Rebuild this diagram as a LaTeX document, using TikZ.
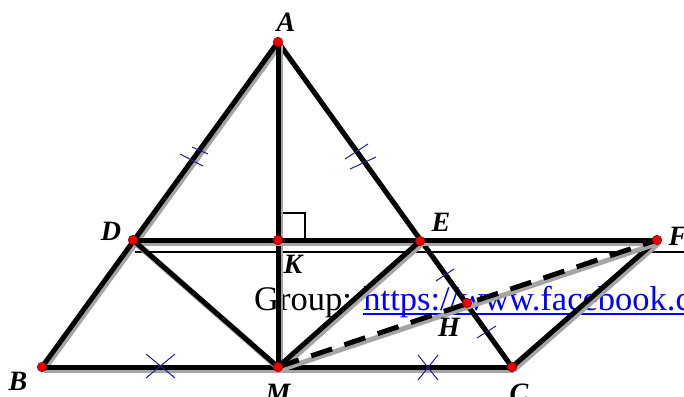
\documentclass[tikz,border=0pt]{standalone}
\usepackage{fontspec}
\setmainfont{Liberation Serif}
\definecolor{shadowgray}{RGB}{165,165,165}
\definecolor{tickblue}{RGB}{30,30,150}
\definecolor{dotred}{RGB}{240,0,0}
\newcommand{\myul}[1]{\leavevmode\setbox0\hbox{#1}\rlap{\rule[-4.5pt]{\wd0}{1.8pt}}\box0}
\tikzset{
  seg/.style={line width=5pt, black,
    preaction={draw=shadowgray, line width=5pt, transform canvas={shift={(2pt,-3pt)}}}},
  dseg/.style={seg, dash pattern=on 22pt off 13pt},
  thin/.style={line width=1.1pt, black},
  tick/.style={line width=1pt, tickblue},
  dot/.style={circle, fill=dotred, draw=red!60!black, line width=0.6pt, inner sep=0pt, minimum size=9.5pt},
  lab/.style={font=\fontsize{28}{30}\selectfont\bfseries\itshape, inner sep=0pt}
}
\begin{document}
\begin{tikzpicture}[x=1pt,y=-1pt]
\useasboundingbox (0,0) rectangle (684,396);
% points
\coordinate (A) at (278,42);
\coordinate (D) at (133,240);
\coordinate (K) at (278,240);
\coordinate (E) at (420,241);
\coordinate (F) at (657,240);
\coordinate (B) at (42,367);
\coordinate (M) at (278,367);
\coordinate (C) at (512,367);
\coordinate (H) at (467,303);
\coordinate (L1) at (135,252);
\coordinate (L2) at (690,252);
% thin horizontal line
\draw[thin] (L1) -- (L2);
% right angle mark
\draw[thin] (278,213) rectangle (305,240);
% text
\node[anchor=base west, inner sep=0pt, font=\fontsize{34.5}{40}\selectfont] (txt) at (254,310)
  {Group: \textcolor{blue}{\myul{https://www.facebook.com/groups}}};
% thick segments
\draw[seg] (A) -- (B);
\draw[seg] (A) -- (C);
\draw[seg] (A) -- (M);
\draw[seg] (B) -- (C);
\draw[seg] (D) -- (F);
\draw[seg] (D) -- (M);
\draw[seg] (E) -- (M);
\draw[seg] (C) -- (F);
\draw[dseg] (M) -- (F);
% tick marks
\draw[tick] (192,147) -- (208,154);
\draw[tick] (180,154) -- (203,166);
\draw[tick] (345,159) -- (368,144);
\draw[tick] (350,169) -- (376,157);
\draw[tick] (146,354) -- (175,378);
\draw[tick] (146,378) -- (175,354);
\draw[tick] (418,355) -- (438,380);
\draw[tick] (418,380) -- (438,355);
\draw[tick] (436,281) -- (454,269);
\draw[tick] (477,338) -- (496,326);
% dots
\foreach \p in {A,D,K,E,F,B,M,C,H} \node[dot] (d\p) at (\p) {};
% labels
\node[lab] (lA) at (286,22) {A};
\node[lab] (lD) at (111,231) {D};
\node[lab] (lE) at (441,222) {E};
\node[lab] (lF) at (678,236) {F};
\node[lab] (lK) at (293,264) {K};
\node[lab] (lH) at (449,327) {H};
\node[lab] (lB) at (18,381) {B};
\node[lab] (lM) at (278,393) {M};
\node[lab] (lC) at (519,393) {C};
\end{tikzpicture}
\end{document}
